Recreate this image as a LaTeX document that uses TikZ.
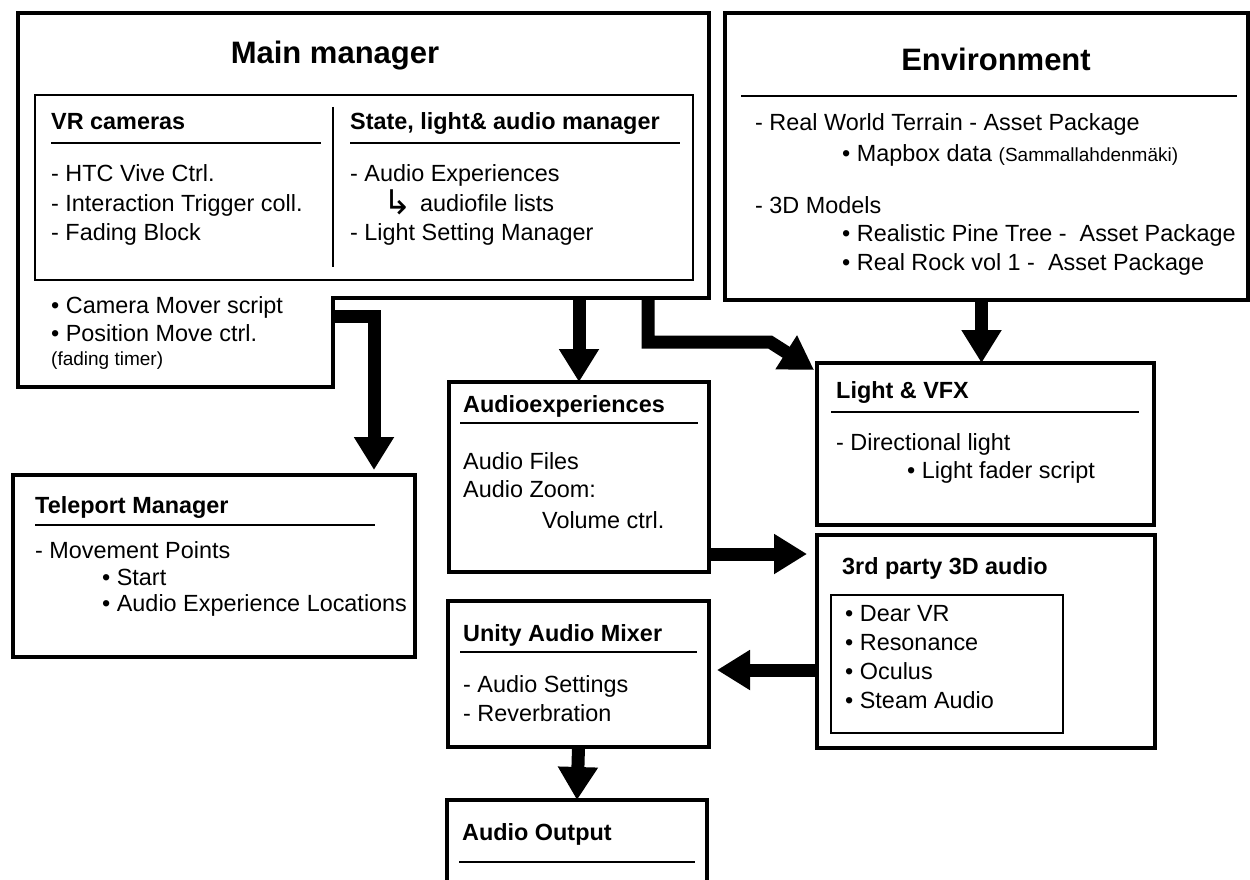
\documentclass[tikz,border=0pt]{standalone}
\usepackage{fontspec}
\setmainfont{Liberation Sans}
\newfontfamily\symfont{DejaVu Sans}
\usetikzlibrary{arrows.meta}
\begin{document}
\begin{tikzpicture}[x=1pt,y=-1pt,
  box/.style={draw, line width=3.6pt, inner sep=0pt, outer sep=0pt, anchor=north west},
  thinbox/.style={draw, line width=2.2pt, inner sep=0pt, outer sep=0pt, anchor=north west},
  rule/.style={line width=1.8pt},
  txt/.style={inner sep=0pt, anchor=base west, font=\fontsize{23.4}{28}\selectfont},
  hd/.style={inner sep=0pt, anchor=base west, font=\fontsize{23.4}{28}\selectfont\bfseries},
  ttl/.style={inner sep=0pt, anchor=base, font=\fontsize{31}{37}\selectfont\bfseries},
  sml/.style={inner sep=0pt, anchor=base west, font=\fontsize{19}{23}\selectfont},
  fat/.style={line width=13pt, -{Triangle[length=33pt,width=38pt]}},
]
\useasboundingbox (0,0) rectangle (1250,880);
\clip (0,0) rectangle (1250,880);
\fill[white] (0,0) rectangle (1250,880);

% ---------- Main manager (stepped outline) ----------
\coordinate (mmA) at (18,13);
\coordinate (mmB) at (709,13);
\coordinate (mmC) at (709,298);
\coordinate (mmD) at (333,298);
\coordinate (mmE) at (333,387);
\coordinate (mmF) at (18,387);
\draw[line width=3.6pt] (mmA) -- (mmB) -- (mmC) -- (mmD) -- (mmE) -- (mmF) -- cycle;
\node[thinbox, minimum width=658pt, minimum height=185pt] (mminner) at (35,95) {};
\draw[line width=2pt] (333,107) -- (333,267);
\draw[rule] (51,143) -- (321,143);
\draw[rule] (350,143) -- (680,143);

\node[ttl] (mmtitle) at (335,64) {Main manager};
\node[hd] (vrh) at (51,130) {VR cameras};
\node[txt] (vr1) at (51,182) {- HTC Vive Ctrl.};
\node[txt] (vr2) at (51,211) {- Interaction Trigger coll.};
\node[txt] (vr3) at (51,240) {- Fading Block};
\node[hd] (sth) at (350,130) {State, light\& audio manager};
\node[txt] (st1) at (350,182) {- Audio Experiences};
\node[inner sep=0pt, anchor=base west, font=\symfont\fontsize{34}{36}\selectfont] (st2a) at (383,214) {↳};
\node[txt] (st2) at (420,211) {audiofile lists};
\node[txt] (st3) at (350,240) {- Light Setting Manager};
\node[txt] (cm1) at (51,313) {• Camera Mover script};
\node[txt] (cm2) at (51,341) {• Position Move ctrl.};
\node[sml] (cm3) at (51,365) {(fading timer)};

% ---------- Environment ----------
\node[box, minimum width=523pt, minimum height=287pt] (env) at (725,13) {};
\draw[rule] (741,96) -- (1237,96);
\node[ttl] (envtitle) at (996,71) {Environment};
\node[txt] (en1) at (755,131) {- Real World Terrain - Asset Package};
\node[txt] (en2) at (842,161) {• Mapbox data \fontsize{19}{23}\selectfont(Sammallahdenmäki)};
\node[txt] (en3) at (755,213) {- 3D Models};
\node[txt] (en4) at (842,241) {• Realistic Pine Tree -\ \ Asset Package};
\node[txt] (en5) at (842,270) {• Real Rock vol 1 -\ \ Asset Package};

% ---------- Light & VFX ----------
\node[box, minimum width=337pt, minimum height=162pt] (light) at (817,363) {};
\draw[rule] (831,412) -- (1139,412);
\node[hd] (lh) at (836,398) {Light \& VFX};
\node[txt] (l1) at (836,450) {- Directional light};
\node[txt] (l2) at (907,478) {• Light fader script};

% ---------- 3rd party 3D audio ----------
\node[box, minimum width=338pt, minimum height=213pt] (third) at (817,535) {};
\node[thinbox, minimum width=232pt, minimum height=138pt] (thirdin) at (831,595) {};
\node[hd] (th) at (842,574) {3rd party 3D audio};
\node[txt] (t1) at (845,621) {• Dear VR};
\node[txt] (t2) at (845,650) {• Resonance};
\node[txt] (t3) at (845,679) {• Oculus};
\node[txt] (t4) at (845,708) {• Steam Audio};

% ---------- Audioexperiences ----------
\node[box, minimum width=260pt, minimum height=190pt] (aexp) at (449,382) {};
\draw[rule] (460,423) -- (698,423);
\node[hd] (ah) at (463,412) {Audioexperiences};
\node[txt] (a1) at (463,469) {Audio Files};
\node[txt] (a2) at (463,497) {Audio Zoom:};
\node[txt] (a3) at (542,528) {Volume ctrl.};

% ---------- Teleport Manager ----------
\node[box, minimum width=402pt, minimum height=182pt] (tele) at (13,475) {};
\draw[rule] (35,525) -- (375,525);
\node[hd] (tph) at (35,513) {Teleport Manager};
\node[txt] (tp1) at (35,558) {- Movement Points};
\node[txt] (tp2) at (102,585) {• Start};
\node[txt] (tp3) at (102,611) {• Audio Experience Locations};

% ---------- Unity Audio Mixer ----------
\node[box, minimum width=261pt, minimum height=146pt] (mixer) at (448,601) {};
\draw[rule] (460,652) -- (697,652);
\node[hd] (mh) at (463,641) {Unity Audio Mixer};
\node[txt] (m1) at (463,692) {- Audio Settings};
\node[txt] (m2) at (463,721) {- Reverbration};

% ---------- Audio Output ----------
\node[box, minimum width=260pt, minimum height=120pt] (out) at (447,800) {};
\draw[rule] (459,862) -- (695,862);
\node[hd] (oh) at (462,840) {Audio Output};

% ---------- Connectors ----------
\coordinate (mmBot) at (0,298);
\coordinate (mtS) at (333,316);
\coordinate (mlS) at (648,298);
\coordinate (mlE) at (770,342);
\coordinate (ltip) at (814,370);

\draw[fat] (aexp.north |- mmBot) -- (aexp.north);
\draw[fat] (mlS) |- (mlE) -- (ltip);
\draw[fat] ([xshift=-4pt]light.north |- env.south) -- ([xshift=-4pt]light.north);
\draw[fat, shorten >=10pt] ([yshift=18pt]aexp.south east) -- ([yshift=18pt]aexp.south east -| third.west);
\draw[fat, shorten >=8pt] ([yshift=4pt]third.west |- mixer.east) -- ([yshift=4pt]mixer.east);
\draw[fat] (mixer.south) -- (out.north);
\draw[fat, shorten >=5pt] (mtS) -| ([xshift=-41pt]tele.north east);
\end{tikzpicture}
\end{document}
